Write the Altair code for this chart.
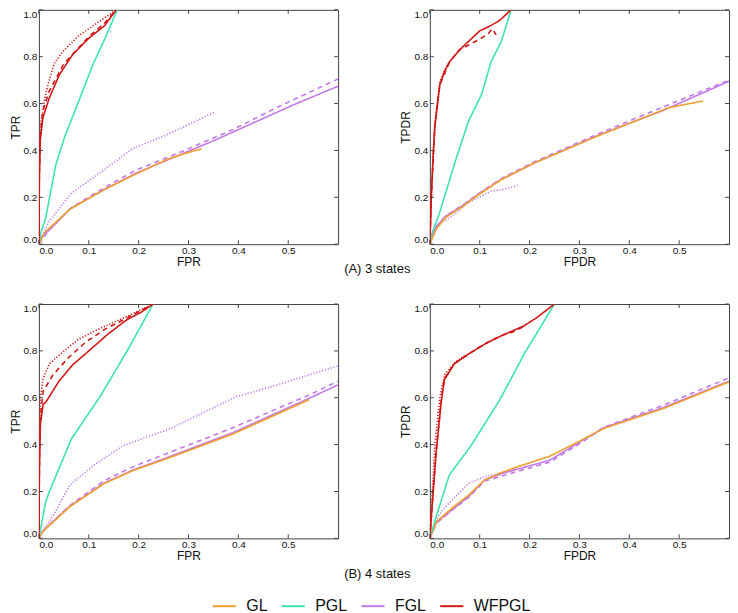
import altair as alt
import pandas as pd

# ---------------- data ----------------
METHODS = ["GL", "PGL", "FGL", "WFPGL"]
X_TICKS = [0.0, 0.1, 0.2, 0.3, 0.4, 0.5]
Y_TICKS = [0.0, 0.2, 0.4, 0.6, 0.8, 1.0]
ROW_TITLES = ["(A) 3 states", "(B) 4 states"]

# Panel A, TPR vs FPR
A_TPR_GL_x = [0, 0.012, 0.063, 0.13, 0.195, 0.255, 0.29, 0.326]
A_TPR_GL_y = [0, 0.052, 0.15, 0.232, 0.30, 0.36, 0.385, 0.407]
A_TPR_PGL_x = [0, 0.004, 0.013, 0.034, 0.052, 0.078, 0.109, 0.133, 0.157]
A_TPR_PGL_y = [0, 0.05, 0.106, 0.34, 0.46, 0.60, 0.77, 0.88, 1.0]
A_TPR_FGL_solid_x = [0, 0.004, 0.019, 0.063, 0.13, 0.195, 0.273, 0.351, 0.513, 0.6]
A_TPR_FGL_solid_y = [0, 0.03, 0.057, 0.151, 0.232, 0.303, 0.373, 0.442, 0.597, 0.674]
A_TPR_FGL_dashed_x = [0, 0.019, 0.063, 0.13, 0.195, 0.292, 0.39, 0.487, 0.6]
A_TPR_FGL_dashed_y = [0, 0.058, 0.153, 0.24, 0.316, 0.40, 0.49, 0.593, 0.705]
A_TPR_FGL_dotted_x = [0, 0.019, 0.065, 0.13, 0.188, 0.26, 0.351]
A_TPR_FGL_dotted_y = [0, 0.092, 0.218, 0.316, 0.408, 0.47, 0.562]
A_TPR_WF_solid_x = [0, 0.001, 0.003, 0.008, 0.021, 0.041, 0.067, 0.099, 0.132, 0.155]
A_TPR_WF_solid_y = [0, 0.30, 0.45, 0.54, 0.625, 0.723, 0.807, 0.877, 0.933, 1.0]
A_TPR_WF_dashed_x = [0, 0.001, 0.003, 0.008, 0.02, 0.05, 0.10, 0.13, 0.155]
A_TPR_WF_dashed_y = [0, 0.32, 0.47, 0.57, 0.65, 0.77, 0.885, 0.94, 1.0]
A_TPR_WF_dotted_x = [0, 0.001, 0.003, 0.006, 0.012, 0.018, 0.031, 0.047, 0.080, 0.119, 0.155]
A_TPR_WF_dotted_y = [0, 0.35, 0.50, 0.55, 0.625, 0.68, 0.772, 0.82, 0.89, 0.947, 1.0]

# Panel A, TPDR vs FPDR
A_TPDR_GL_x = [0, 0.013, 0.032, 0.065, 0.097, 0.143, 0.208, 0.337, 0.48, 0.548]
A_TPDR_GL_y = [0, 0.065, 0.115, 0.16, 0.21, 0.275, 0.345, 0.462, 0.583, 0.611]
A_TPDR_PGL_x = [0, 0.005, 0.019, 0.052, 0.078, 0.104, 0.123, 0.143, 0.163]
A_TPDR_PGL_y = [0, 0.05, 0.13, 0.36, 0.527, 0.64, 0.78, 0.863, 1.0]
A_TPDR_FGL_solid_x = [0, 0.004, 0.013, 0.032, 0.065, 0.097, 0.143, 0.208, 0.337, 0.467, 0.6]
A_TPDR_FGL_solid_y = [0, 0.04, 0.075, 0.12, 0.164, 0.213, 0.276, 0.345, 0.464, 0.570, 0.695]
A_TPDR_FGL_dashed_x = [0, 0.013, 0.032, 0.065, 0.097, 0.143, 0.208, 0.337, 0.467, 0.6]
A_TPDR_FGL_dashed_y = [0, 0.075, 0.12, 0.165, 0.215, 0.28, 0.35, 0.47, 0.585, 0.70]
A_TPDR_FGL_dotted_x = [0, 0.006, 0.019, 0.045, 0.078, 0.123, 0.149, 0.176]
A_TPDR_FGL_dotted_y = [0, 0.05, 0.087, 0.12, 0.178, 0.227, 0.234, 0.25]
A_TPDR_WF_solid_x = [0, 0.003, 0.006, 0.01, 0.02, 0.03, 0.04, 0.06, 0.08, 0.10, 0.12, 0.14, 0.163]
A_TPDR_WF_solid_y = [0, 0.2, 0.35, 0.5, 0.68, 0.74, 0.78, 0.83, 0.87, 0.91, 0.93, 0.955, 1.0]
A_TPDR_WF_dashed_x = [0, 0.003, 0.01, 0.02, 0.04, 0.06, 0.078, 0.10, 0.117, 0.125, 0.133]
A_TPDR_WF_dashed_y = [0, 0.2, 0.5, 0.68, 0.78, 0.83, 0.85, 0.875, 0.898, 0.919, 0.894]
A_TPDR_WF_dotted_x = [0, 0.003, 0.01, 0.02, 0.03, 0.04]
A_TPDR_WF_dotted_y = [0, 0.22, 0.52, 0.69, 0.745, 0.78]

# Panel B, TPR vs FPR
B_TPR_GL_x = [0, 0.008, 0.062, 0.13, 0.188, 0.26, 0.39, 0.542]
B_TPR_GL_y = [0, 0.03, 0.135, 0.233, 0.289, 0.343, 0.446, 0.592]
B_TPR_PGL_x = [0, 0.013, 0.021, 0.065, 0.123, 0.177, 0.229]
B_TPR_PGL_y = [0, 0.151, 0.20, 0.424, 0.606, 0.80, 1.0]
B_TPR_FGL_solid_x = [0, 0.008, 0.062, 0.13, 0.188, 0.26, 0.39, 0.542, 0.6]
B_TPR_FGL_solid_y = [0, 0.032, 0.137, 0.235, 0.291, 0.347, 0.452, 0.598, 0.655]
B_TPR_FGL_dashed_x = [0, 0.008, 0.062, 0.13, 0.188, 0.39, 0.545, 0.6]
B_TPR_FGL_dashed_y = [0, 0.033, 0.14, 0.245, 0.305, 0.473, 0.615, 0.671]
B_TPR_FGL_dotted_x = [0, 0.028, 0.062, 0.11, 0.169, 0.26, 0.396, 0.463, 0.6]
B_TPR_FGL_dotted_y = [0, 0.095, 0.228, 0.312, 0.396, 0.465, 0.605, 0.645, 0.736]
B_TPR_WF_solid_x = [0, 0.001, 0.003, 0.0084, 0.015, 0.04, 0.067, 0.112, 0.138, 0.177, 0.205, 0.229]
B_TPR_WF_solid_y = [0, 0.30, 0.49, 0.571, 0.585, 0.67, 0.739, 0.822, 0.871, 0.934, 0.965, 1.0]
B_TPR_WF_dashed_x = [0, 0.001, 0.003, 0.0084, 0.028, 0.06, 0.093, 0.132, 0.177, 0.229]
B_TPR_WF_dashed_y = [0, 0.32, 0.52, 0.627, 0.697, 0.773, 0.836, 0.892, 0.941, 1.0]
B_TPR_WF_dotted_x = [0, 0.001, 0.003, 0.0084, 0.021, 0.047, 0.08, 0.112, 0.177, 0.229]
B_TPR_WF_dotted_y = [0, 0.35, 0.60, 0.682, 0.745, 0.794, 0.85, 0.885, 0.948, 1.0]

# Panel B, TPDR vs FPDR
B_TPDR_GL_x = [0, 0.013, 0.045, 0.078, 0.11, 0.143, 0.175, 0.24, 0.305, 0.35, 0.467, 0.6]
B_TPDR_GL_y = [0, 0.07, 0.13, 0.185, 0.25, 0.28, 0.305, 0.35, 0.42, 0.47, 0.553, 0.668]
B_TPDR_PGL_x = [0, 0.013, 0.039, 0.084, 0.14, 0.19, 0.25]
B_TPDR_PGL_y = [0, 0.095, 0.27, 0.40, 0.59, 0.79, 1.0]
B_TPDR_FGL_solid_x = [0, 0.013, 0.045, 0.078, 0.11, 0.143, 0.175, 0.24, 0.305, 0.35, 0.467, 0.6]
B_TPDR_FGL_solid_y = [0, 0.067, 0.123, 0.179, 0.249, 0.275, 0.295, 0.333, 0.417, 0.473, 0.557, 0.671]
B_TPDR_FGL_dashed_x = [0, 0.013, 0.045, 0.078, 0.11, 0.143, 0.175, 0.24, 0.305, 0.35, 0.467, 0.6]
B_TPDR_FGL_dashed_y = [0, 0.065, 0.12, 0.175, 0.245, 0.265, 0.285, 0.325, 0.41, 0.475, 0.567, 0.685]
B_TPDR_FGL_dotted_x = [0, 0.013, 0.026, 0.078, 0.11, 0.143, 0.175]
B_TPDR_FGL_dotted_y = [0, 0.08, 0.123, 0.235, 0.263, 0.28, 0.30]
B_TPDR_WF_solid_x = [0, 0.005, 0.013, 0.023, 0.029, 0.049, 0.078, 0.11, 0.143, 0.188, 0.214, 0.25]
B_TPDR_WF_solid_y = [0, 0.15, 0.375, 0.585, 0.676, 0.745, 0.787, 0.829, 0.864, 0.906, 0.941, 1.0]
B_TPDR_WF_dashed_x = [0, 0.005, 0.013, 0.023, 0.029, 0.049, 0.078, 0.11, 0.143, 0.165, 0.19]
B_TPDR_WF_dashed_y = [0, 0.15, 0.38, 0.59, 0.68, 0.745, 0.787, 0.83, 0.865, 0.88, 0.905]
B_TPDR_WF_dotted_x = [0, 0.005, 0.01, 0.02, 0.03, 0.05, 0.07]
B_TPDR_WF_dotted_y = [0, 0.20, 0.40, 0.60, 0.70, 0.75, 0.78]

SERIES = [
    ("A_TPR", "GL", "solid", A_TPR_GL_x, A_TPR_GL_y),
    ("A_TPR", "PGL", "solid", A_TPR_PGL_x, A_TPR_PGL_y),
    ("A_TPR", "FGL", "solid", A_TPR_FGL_solid_x, A_TPR_FGL_solid_y),
    ("A_TPR", "FGL", "dashed", A_TPR_FGL_dashed_x, A_TPR_FGL_dashed_y),
    ("A_TPR", "FGL", "dotted", A_TPR_FGL_dotted_x, A_TPR_FGL_dotted_y),
    ("A_TPR", "WFPGL", "solid", A_TPR_WF_solid_x, A_TPR_WF_solid_y),
    ("A_TPR", "WFPGL", "dashed", A_TPR_WF_dashed_x, A_TPR_WF_dashed_y),
    ("A_TPR", "WFPGL", "dotted", A_TPR_WF_dotted_x, A_TPR_WF_dotted_y),
    ("A_TPDR", "GL", "solid", A_TPDR_GL_x, A_TPDR_GL_y),
    ("A_TPDR", "PGL", "solid", A_TPDR_PGL_x, A_TPDR_PGL_y),
    ("A_TPDR", "FGL", "solid", A_TPDR_FGL_solid_x, A_TPDR_FGL_solid_y),
    ("A_TPDR", "FGL", "dashed", A_TPDR_FGL_dashed_x, A_TPDR_FGL_dashed_y),
    ("A_TPDR", "FGL", "dotted", A_TPDR_FGL_dotted_x, A_TPDR_FGL_dotted_y),
    ("A_TPDR", "WFPGL", "solid", A_TPDR_WF_solid_x, A_TPDR_WF_solid_y),
    ("A_TPDR", "WFPGL", "dashed", A_TPDR_WF_dashed_x, A_TPDR_WF_dashed_y),
    ("A_TPDR", "WFPGL", "dotted", A_TPDR_WF_dotted_x, A_TPDR_WF_dotted_y),
    ("B_TPR", "GL", "solid", B_TPR_GL_x, B_TPR_GL_y),
    ("B_TPR", "PGL", "solid", B_TPR_PGL_x, B_TPR_PGL_y),
    ("B_TPR", "FGL", "solid", B_TPR_FGL_solid_x, B_TPR_FGL_solid_y),
    ("B_TPR", "FGL", "dashed", B_TPR_FGL_dashed_x, B_TPR_FGL_dashed_y),
    ("B_TPR", "FGL", "dotted", B_TPR_FGL_dotted_x, B_TPR_FGL_dotted_y),
    ("B_TPR", "WFPGL", "solid", B_TPR_WF_solid_x, B_TPR_WF_solid_y),
    ("B_TPR", "WFPGL", "dashed", B_TPR_WF_dashed_x, B_TPR_WF_dashed_y),
    ("B_TPR", "WFPGL", "dotted", B_TPR_WF_dotted_x, B_TPR_WF_dotted_y),
    ("B_TPDR", "GL", "solid", B_TPDR_GL_x, B_TPDR_GL_y),
    ("B_TPDR", "PGL", "solid", B_TPDR_PGL_x, B_TPDR_PGL_y),
    ("B_TPDR", "FGL", "solid", B_TPDR_FGL_solid_x, B_TPDR_FGL_solid_y),
    ("B_TPDR", "FGL", "dashed", B_TPDR_FGL_dashed_x, B_TPDR_FGL_dashed_y),
    ("B_TPDR", "FGL", "dotted", B_TPDR_FGL_dotted_x, B_TPDR_FGL_dotted_y),
    ("B_TPDR", "WFPGL", "solid", B_TPDR_WF_solid_x, B_TPDR_WF_solid_y),
    ("B_TPDR", "WFPGL", "dashed", B_TPDR_WF_dashed_x, B_TPDR_WF_dashed_y),
    ("B_TPDR", "WFPGL", "dotted", B_TPDR_WF_dotted_x, B_TPDR_WF_dotted_y),
]

rows = []
for panel, method, variant, xs, ys in SERIES:
    for i, (xv, yv) in enumerate(zip(xs, ys)):
        rows.append({"panel": panel, "method": method, "variant": variant,
                     "key": method + "-" + variant, "i": i, "x": xv, "y": yv})
df = pd.DataFrame(rows)
xticks_df = pd.DataFrame({"x": X_TICKS})
yticks_df = pd.DataFrame({"y": Y_TICKS})

# ---------------- styling ----------------
COLORS = ["#F0A030", "#3FE3B2", "#C27AE6", "#D01818"]
VARIANTS = ["solid", "dashed", "dotted"]
DASHES = [[1, 0], [5, 4], [1.2, 1.8]]
KEYS = [m + "-" + v for m in METHODS for v in VARIANTS]
WIDTHS = []
for k in KEYS:
    m, v = k.split("-")
    if v == "dotted":
        WIDTHS.append(1.3)
    elif m == "WFPGL":
        WIDTHS.append(2.0)
    else:
        WIDTHS.append(1.6)

DRAW_ORDER = ["FGL", "GL", "PGL", "WFPGL"]
FONT = "Liberation Sans"
W, H = 300, 235
TICK_LEN = 4
FRAME = "#444"


def x_enc(title):
    return alt.X("x:Q", scale=alt.Scale(domain=[0, 0.6], nice=False, zero=False),
                 axis=alt.Axis(values=X_TICKS, format=".1f", title=title,
                               labelPadding=1, titlePadding=1))


def y_enc(title):
    return alt.Y("y:Q", scale=alt.Scale(domain=[0, 1], nice=False),
                 axis=alt.Axis(values=Y_TICKS, format=".1f", title=title,
                               labelPadding=2, titlePadding=1, labelFlush=True))


def panel_chart(pid, xtitle, ytitle):
    layers = []
    for m in DRAW_ORDER:
        sub = df[(df.panel == pid) & (df.method == m)]
        layers.append(
            alt.Chart(sub).mark_line(clip=True).encode(
                x=x_enc(xtitle),
                y=y_enc(ytitle),
                color=alt.Color("method:N", scale=alt.Scale(domain=METHODS, range=COLORS),
                                legend=alt.Legend(title=None, orient="none",
                                                  direction="horizontal",
                                                  legendX=173, legendY=585,
                                                  symbolType="stroke", symbolSize=540,
                                                  symbolStrokeWidth=2,
                                                  labelFontSize=16, labelOffset=9,
                                                  columnPadding=9, labelFont=FONT,
                                                  labelColor="#111")),
                strokeDash=alt.StrokeDash("variant:N",
                                          scale=alt.Scale(domain=VARIANTS, range=DASHES),
                                          legend=None),
                strokeWidth=alt.StrokeWidth("key:N", scale=alt.Scale(domain=KEYS, range=WIDTHS),
                                            legend=None),
                detail="variant:N",
                order="i:Q",
            )
        )
    # small inward ticks on all four sides (matplotlib classic frame)
    tick = dict(color=FRAME, strokeWidth=1)
    layers.append(alt.Chart(xticks_df).mark_rule(**tick).encode(
        x=x_enc(xtitle), y=alt.value(H), y2=alt.value(H - TICK_LEN)))
    layers.append(alt.Chart(xticks_df).mark_rule(**tick).encode(
        x=x_enc(xtitle), y=alt.value(0), y2=alt.value(TICK_LEN)))
    layers.append(alt.Chart(yticks_df).mark_rule(**tick).encode(
        y=y_enc(ytitle), x=alt.value(0), x2=alt.value(TICK_LEN)))
    layers.append(alt.Chart(yticks_df).mark_rule(**tick).encode(
        y=y_enc(ytitle), x=alt.value(W), x2=alt.value(W - TICK_LEN)))
    return alt.layer(*layers).properties(width=W, height=H)


def row(prefix, title, offset):
    return alt.hconcat(
        panel_chart(prefix + "_TPR", "FPR", "TPR"),
        panel_chart(prefix + "_TPDR", "FPDR", "TPDR"),
        spacing=60,
    ).properties(title=alt.TitleParams(title, orient="bottom", anchor="middle",
                                       fontSize=13, fontWeight="normal", font=FONT,
                                       offset=offset, dx=8, color="#111"))


chart = alt.vconcat(
    row("A", ROW_TITLES[0], -5),
    row("B", ROW_TITLES[1], 6),
    spacing=27,
).resolve_scale(color="shared").properties(
    padding={"left": 0, "top": 0, "right": 0, "bottom": 0}
).configure(font=FONT).configure_view(
    stroke=FRAME, strokeWidth=1
).configure_axis(
    grid=False, domain=False, ticks=False, tickSize=0,
    labelFont=FONT, labelFontSize=10, labelColor="#111",
    titleFont=FONT, titleFontSize=12, titleFontWeight="normal", titleColor="#111",
)

chart.save("out.html", embed_options={"renderer": "svg", "actions": False})
